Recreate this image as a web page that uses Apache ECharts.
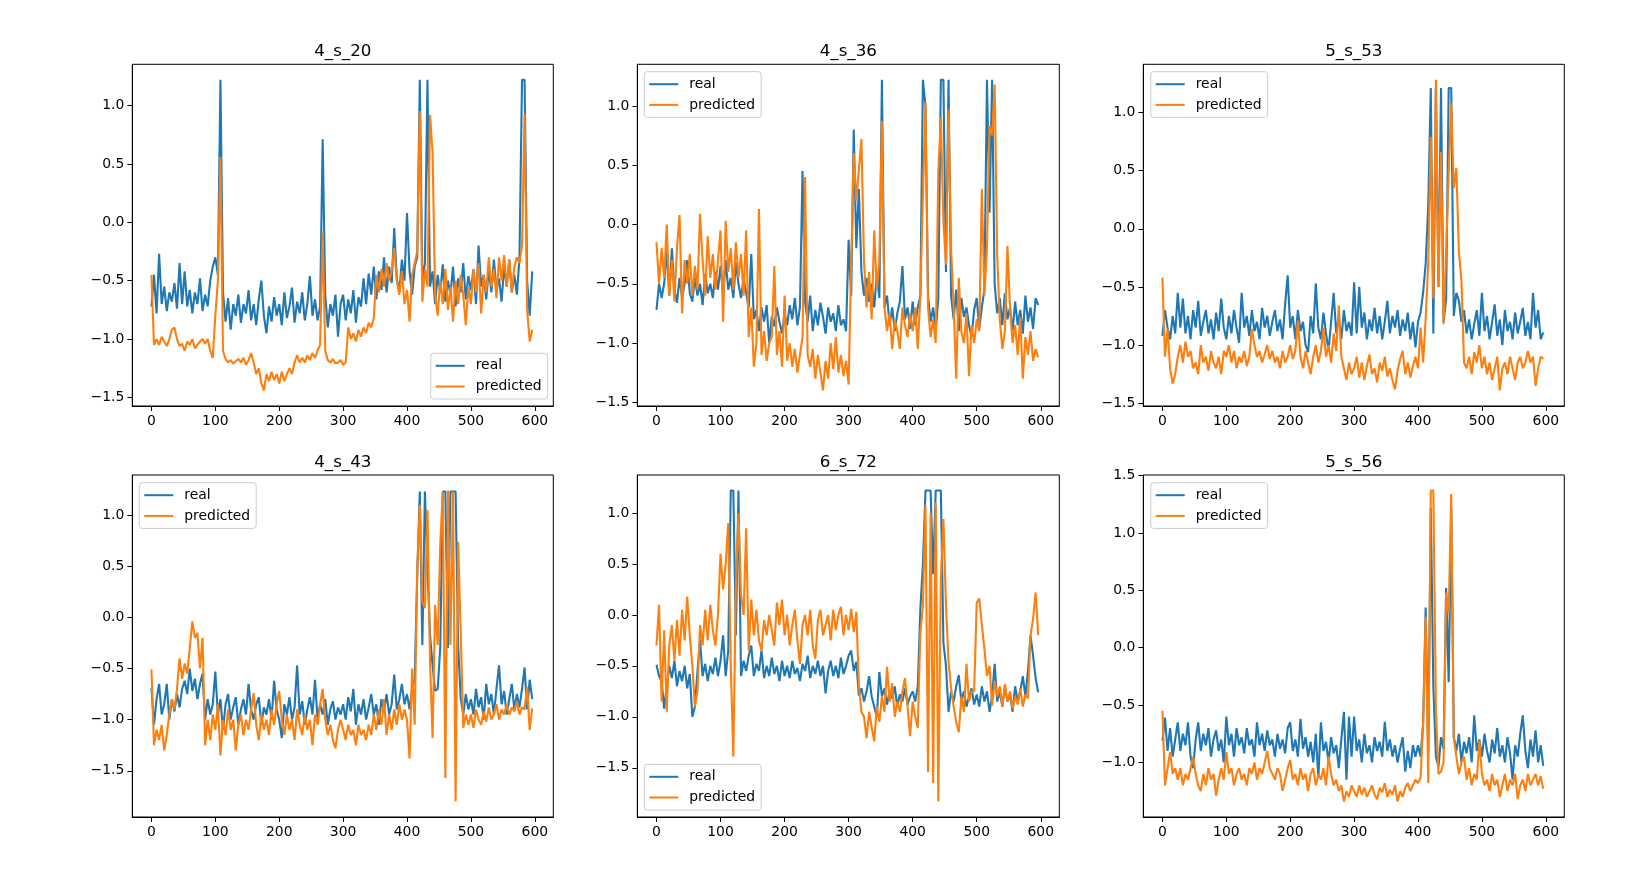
<!DOCTYPE html>
<html><head><meta charset="utf-8">
<script src="https://cdn.jsdelivr.net/npm/echarts@6/dist/echarts.min.js"></script>
<style>html,body{margin:0;padding:0;background:#fff}#c{width:1638px;height:884px}</style>
</head><body><div id="c"></div>
<script>
// ---------- data ----------
const titles = ['4_s_20', '4_s_36', '5_s_53', '4_s_43', '6_s_72', '5_s_56'];
const seriesNames = ['real', 'predicted'];
const xTickValues = [0, 100, 200, 300, 400, 500, 600];
const yTickValues = [-1.5, -1.0, -0.5, 0.0, 0.5, 1.0, 1.5];
const sampleStep = 4; // x spacing of the sampled points (0,4,8,...,596)
const xDataMax = 599;

const real_4_s_20 = [
-0.72,-0.45,-0.78,-0.27,-0.7,-0.55,-0.76,-0.6,-0.68,-0.52,-0.74,-0.35,-0.7,-0.42,-0.72,-0.58,-0.78,-0.6,-0.7,-0.48,-0.76,-0.62,-0.72,-0.5,-0.38,
-0.3,-0.45,1.22,-0.6,-0.85,-0.65,-0.92,-0.7,-0.8,-0.62,-0.86,-0.7,-0.78,-0.58,-0.84,-0.7,-0.88,-0.66,-0.5,-0.8,-0.95,-0.72,-0.85,-0.64,-0.8,
-0.7,-0.88,-0.6,-0.82,-0.72,-0.56,-0.86,-0.68,-0.78,-0.6,-0.84,-0.7,-0.46,-0.8,-0.66,-0.84,-0.72,0.71,-0.62,-0.9,-0.7,-0.8,-0.62,-0.98,-0.7,
-0.62,-0.84,-0.66,-0.78,-0.58,-0.86,-0.64,-0.72,-0.48,-0.7,-0.44,-0.62,-0.38,-0.66,-0.42,-0.58,-0.3,-0.6,-0.38,-0.52,-0.05,-0.48,-0.6,-0.32,-0.5,
0.08,-0.42,-0.62,-0.38,-0.3,1.22,-0.5,-0.35,1.22,-0.55,-0.42,-0.7,-0.45,-0.6,-0.36,-0.68,-0.5,-0.62,-0.38,-0.72,-0.48,-0.6,-0.35,-0.66,-0.46,
-0.58,-0.4,-0.7,-0.2,-0.55,-0.45,-0.66,-0.4,-0.6,-0.32,-0.58,-0.48,-0.68,-0.38,-0.55,-0.32,-0.6,-0.45,-0.62,-0.3,1.22,1.22,-0.5,-0.8,-0.42];
const pred_4_s_20 = [
-0.45,-1.05,-1.0,-1.05,-0.98,-1.02,-1.06,-1.0,-0.92,-0.9,-1.0,-1.06,-1.04,-1.1,-1.02,-1.05,-1.0,-1.08,-1.05,-1.02,-1.0,-1.04,-1.0,-1.1,-1.16,
-0.8,-0.5,0.56,-1.1,-1.17,-1.2,-1.18,-1.21,-1.19,-1.17,-1.2,-1.16,-1.22,-1.18,-1.12,-1.2,-1.3,-1.25,-1.38,-1.44,-1.3,-1.36,-1.28,-1.35,-1.3,
-1.38,-1.28,-1.36,-1.3,-1.25,-1.3,-1.2,-1.14,-1.2,-1.16,-1.2,-1.14,-1.18,-1.12,-1.16,-1.1,-1.05,-0.09,-1.1,-1.18,-1.2,-1.17,-1.21,-1.2,-1.18,
-1.22,-1.2,-0.9,-1.0,-0.95,-1.02,-0.92,-0.98,-0.9,-0.95,-0.86,-0.9,-0.82,-0.45,-0.6,-0.4,-0.55,-0.35,-0.5,-0.42,-0.22,-0.5,-0.62,-0.42,-0.7,
-0.58,-0.85,-0.45,-0.35,-0.25,0.95,-0.68,-0.4,-0.55,0.92,0.6,-0.62,-0.8,-0.5,-0.7,-0.4,-0.75,-0.55,-0.85,-0.5,-0.7,-0.45,-0.62,-0.88,-0.55,
-0.7,-0.4,-0.6,-0.35,-0.78,-0.45,-0.6,-0.3,-0.55,-0.4,-0.65,-0.3,-0.5,-0.28,-0.55,-0.32,-0.6,-0.38,-0.3,-0.35,-0.2,0.93,-0.75,-1.02,-0.92];

const real_4_s_36 = [
-0.72,-0.5,-0.62,-0.5,-0.22,-0.6,-0.2,-0.55,-0.66,-0.45,-0.62,-0.5,-0.3,-0.58,-0.65,-0.45,-0.6,-0.5,-0.68,-0.42,-0.58,-0.5,-0.62,-0.4,-0.55,
-0.35,-0.6,-0.3,-0.55,-0.45,-0.62,-0.32,-0.5,-0.62,-0.45,-0.58,-0.7,-0.25,-0.8,-0.72,-0.9,-0.7,-0.82,-0.68,-1.0,-0.78,-0.86,-0.7,-0.82,-0.92,
-0.75,-0.85,-0.68,-0.8,-0.62,-0.85,-0.7,0.45,-0.65,-0.82,-0.6,-0.9,-0.72,-0.85,-0.66,-0.78,-0.92,-0.7,-0.82,-0.75,-0.9,-0.68,-0.85,-0.8,-0.9,
-0.13,-0.6,0.8,-0.2,0.3,-0.4,-0.6,-0.45,-0.65,-0.5,-0.7,-0.42,-0.62,1.22,-0.7,-0.6,-0.85,-0.7,-0.9,-0.75,-0.65,-0.35,-0.8,-0.7,-0.88,
-0.65,-0.85,-0.7,-0.6,1.22,1.0,-0.6,-0.82,-0.7,-0.9,-0.62,1.22,1.22,-0.4,1.22,-0.6,-0.8,-0.55,-0.9,-0.62,-0.78,-0.7,-0.85,-0.95,-0.72,
-0.62,-0.88,-0.7,-0.55,1.22,0.1,1.22,-0.5,-0.75,-0.62,-0.85,-0.58,-0.8,-0.7,-0.9,-0.65,-0.85,-0.72,-0.92,-0.6,-0.82,-0.7,-0.88,-0.62,-0.68];
const pred_4_s_36 = [
-0.15,-0.5,-0.2,-0.45,0.0,-0.6,-0.3,-0.65,-0.2,0.08,-0.75,-0.3,-0.5,-0.25,-0.6,-0.35,-0.55,0.09,-0.3,-0.6,-0.1,-0.45,-0.25,-0.55,-0.3,
-0.05,-0.82,0.03,-0.4,-0.2,-0.55,-0.15,-0.45,-0.25,-0.6,-0.05,-0.95,-0.7,-1.2,-1.0,0.13,-1.1,-0.9,-1.15,-1.0,-0.95,-0.35,-1.1,-0.9,-1.2,
-0.6,-1.15,-1.0,-1.2,-1.05,-1.25,-1.1,-0.95,0.4,-1.1,-1.2,-1.05,-1.3,-1.1,-1.25,-1.4,-1.15,-1.3,-1.0,-1.22,-0.95,-1.25,-1.1,-1.28,-1.15,
-1.35,-0.33,0.6,0.2,0.46,0.72,-0.3,-0.7,-0.4,-0.8,-0.05,-0.55,-0.3,0.87,-0.7,-0.9,-0.75,-1.05,-0.8,-0.9,-1.05,-0.7,-0.85,-0.95,-0.75,
-0.9,-0.7,-1.05,-0.6,0.24,1.03,-0.7,-0.95,-0.8,-1.0,0.44,0.9,0.02,-0.34,0.97,-0.2,-0.7,-1.3,-0.45,-0.9,-1.0,-0.75,-1.28,-0.85,-1.0,
-0.8,-0.9,0.3,-0.6,-0.2,0.83,0.75,1.18,-0.26,-0.8,-1.05,-0.9,-0.18,-0.7,-1.0,-0.85,-1.1,-0.78,-1.3,-0.95,-1.1,-0.9,-1.15,-1.05,-1.12];

const real_5_s_53 = [
-0.92,-0.7,-0.85,-0.95,-0.75,-0.9,-0.55,-0.85,-0.6,-0.9,-0.75,-0.95,-0.7,-0.85,-0.62,-0.92,-0.8,-0.7,-0.9,-0.78,-0.95,-0.72,-0.88,-0.6,-0.85,
-0.95,-0.75,-0.9,-0.7,-0.85,-0.98,-0.55,-0.85,-0.75,-0.92,-0.7,-0.88,-0.8,-0.95,-0.68,-0.85,-0.75,-0.92,-0.8,-0.7,-0.88,-0.78,-0.95,-0.65,-0.4,
-0.85,-0.75,-0.95,-0.7,-0.88,-0.8,-1.0,-1.06,-0.75,-0.9,-0.47,-0.85,-0.95,-0.72,-0.9,-1.05,-0.8,-0.55,-0.9,-0.75,-0.95,-0.7,-0.88,-0.8,-0.92,
-0.46,-0.9,-0.5,-0.85,-0.72,-0.95,-0.78,-0.88,-0.68,-0.9,-0.75,-0.95,-0.8,-0.62,-0.9,-0.75,-0.85,-0.7,-0.92,-0.78,-0.88,-0.72,-0.95,-0.8,-1.02,
-0.8,-0.72,-0.55,-0.3,0.2,1.21,-0.9,1.21,-0.5,1.21,-0.8,-0.6,1.21,1.21,-0.75,-0.55,-0.62,-0.8,-0.7,-0.9,-0.78,-0.95,-0.82,-0.7,-0.92,
-0.55,-0.88,-0.75,-0.95,-0.8,-0.65,-0.92,-0.78,-1.0,-0.7,-0.88,-0.8,-0.95,-0.72,-0.9,-0.8,-0.68,-0.92,-0.8,-0.95,-0.55,-0.85,-0.7,-0.95,-0.89];
const pred_5_s_53 = [
-0.42,-1.1,-0.86,-1.2,-1.33,-1.25,-1.1,-1.0,-1.15,-0.97,-1.1,-1.05,-1.2,-1.15,-1.25,-1.0,-1.15,-1.1,-1.22,-1.05,-1.15,-1.2,-1.1,-1.25,-1.05,
-1.1,-1.0,-1.15,-1.05,-1.2,-1.1,-1.15,-1.05,-1.18,-1.1,-0.86,-1.0,-1.1,-1.05,-1.15,-1.08,-1.0,-1.12,-1.05,-1.15,-1.1,-1.2,-1.05,-1.15,-1.1,
-1.0,-1.12,-1.05,-0.79,-1.1,-1.2,-1.05,-1.15,-1.25,-1.1,-1.0,-1.15,-1.05,-0.85,-1.1,-1.0,-1.15,-0.9,-1.05,-0.66,-1.1,-1.2,-1.3,-1.15,-1.25,
-1.2,-1.1,-1.28,-1.15,-1.3,-1.18,-1.08,-1.25,-1.2,-1.32,-1.15,-1.22,-1.1,-1.27,-1.2,-1.3,-1.38,-1.22,-1.12,-1.05,-1.25,-1.15,-1.28,-1.18,-1.1,
-1.2,-0.85,-1.15,-0.77,-0.3,0.79,-0.6,1.28,-0.5,0.66,-0.82,-0.2,0.48,1.08,0.35,0.52,-0.2,-0.45,-1.15,-1.2,-1.1,-1.25,-1.06,-1.15,-1.0,
-1.2,-1.1,-1.25,-1.15,-1.3,-1.2,-1.1,-1.39,-1.2,-1.15,-1.25,-1.1,-1.2,-1.3,-1.15,-1.1,-1.2,-1.15,-1.05,-1.15,-1.1,-1.35,-1.2,-1.1,-1.12];

const real_4_s_43 = [
-0.69,-1.05,-0.8,-0.65,-0.95,-0.85,-0.65,-1.0,-0.8,-0.92,-0.75,-0.88,-0.7,-0.62,-0.75,-0.5,-0.72,-0.6,-0.8,-0.65,-0.55,-1.0,-0.8,-0.95,-0.85,
-0.53,-0.95,-0.8,-1.1,-0.85,-0.75,-1.0,-0.88,-0.78,-1.05,-0.9,-0.8,-0.95,-0.65,-0.9,-1.0,-0.85,-0.78,-1.05,-0.88,-0.95,-0.8,-1.0,-0.62,-0.9,
-1.0,-1.18,-0.85,-0.95,-0.78,-1.0,-0.88,-0.47,-0.95,-0.82,-1.05,-0.9,-0.78,-0.95,-0.61,-1.0,-0.85,-0.95,-0.8,-1.05,-0.9,-0.82,-1.0,-0.88,-0.95,
-0.85,-1.0,-0.78,-0.92,-0.7,-1.05,-0.85,-0.95,-0.8,-1.0,-0.88,-0.75,-0.95,-0.85,-1.05,-0.8,-0.92,-0.75,-0.95,-0.85,-0.56,-0.9,-0.8,-0.65,-0.85,
-0.75,-0.9,-0.7,-0.6,0.41,1.23,-0.27,1.23,0.48,-0.17,-0.47,-0.72,-0.7,-0.3,1.23,1.23,-0.3,1.23,1.23,1.23,-0.27,-0.79,-0.95,-0.75,-0.9,
-0.8,-0.95,-0.7,-0.88,-0.78,-1.0,-0.65,-0.85,-0.75,-0.95,-0.7,-0.47,-0.85,-0.72,-0.95,-0.8,-0.65,-0.9,-0.75,-0.88,-0.7,-0.49,-0.9,-0.61,-0.8];
const pred_4_s_43 = [
-0.51,-1.25,-1.1,-1.2,-1.05,-1.3,-1.15,-0.95,-0.8,-0.9,-0.7,-0.4,-0.6,-0.45,-0.55,-0.3,-0.04,-0.2,-0.15,-0.5,-0.2,-1.25,-1.0,-1.2,-0.95,
-1.1,-0.85,-1.35,-1.0,-1.15,-0.9,-1.1,-1.0,-1.3,-1.05,-0.95,-1.15,-1.0,-1.1,-0.9,-0.74,-1.05,-1.2,-0.95,-1.1,-1.0,-1.15,-0.9,-1.05,-0.85,
-0.72,-1.0,-1.15,-0.95,-1.1,-1.0,-1.2,-0.9,-1.05,-1.15,-0.95,-1.1,-1.0,-1.25,-0.95,-1.05,-0.85,-0.7,-1.0,-1.15,-1.05,-1.2,-1.28,-1.1,-1.0,
-1.1,-1.2,-1.05,-1.15,-1.1,-1.25,-1.05,-1.15,-1.1,-1.2,-1.05,-1.15,-0.95,-1.1,-0.9,-1.05,-0.8,-1.15,-0.95,-1.1,-0.9,-1.05,-0.85,-1.0,-0.9,
-1.0,-1.38,-0.5,-1.05,0.48,1.1,0.15,0.09,1.05,-0.43,-1.18,0.12,-0.27,0.71,1.23,-1.57,1.24,-0.27,1.23,-1.8,0.74,-0.14,-1.08,-0.95,-1.05,
-0.95,-1.08,-0.9,-1.0,-1.05,-0.92,-1.02,-0.88,-1.0,-0.95,-0.85,-1.0,-0.9,-0.95,-0.85,-0.95,-0.88,-0.92,-0.82,-0.95,-0.88,-0.9,-0.68,-1.1,-0.89];

const real_6_s_72 = [
-0.49,-0.6,-0.65,-0.92,-0.7,-0.5,-0.62,-0.45,-0.7,-0.55,-0.65,-0.5,-0.72,-0.58,-1.0,-0.9,-0.55,-0.25,-0.6,-0.48,-0.65,-0.5,-0.58,-0.42,-0.6,
-0.45,-0.2,-0.6,-0.35,1.22,1.22,-0.2,1.22,-0.6,-0.45,-0.55,-0.4,-0.3,-0.6,-0.48,-0.55,-0.35,-0.62,-0.5,-0.6,-0.42,-0.58,-0.5,-0.65,-0.45,
-0.6,-0.5,-0.62,-0.45,-0.58,-0.52,-0.65,-0.48,-0.55,-0.4,-0.62,-0.5,-0.58,-0.45,-0.6,-0.5,-0.77,-0.55,-0.45,-0.6,-0.5,-0.62,-0.42,-0.58,-0.5,
-0.4,-0.35,-0.55,-0.46,-0.79,-0.72,-0.85,-0.75,-0.6,-0.8,-0.9,-1.0,-0.56,-0.8,-0.72,-0.88,-0.75,-0.82,-0.7,-0.9,-0.78,-0.85,-0.72,-0.88,-0.8,
-0.75,-0.85,-0.7,0.06,0.5,1.22,1.22,1.22,0.4,1.22,1.22,1.22,-0.27,-0.5,-0.95,-0.75,-0.85,-0.7,-0.59,-0.85,-0.75,-0.9,-0.8,-0.72,-0.88,
-0.78,-0.9,-0.7,-0.85,-0.75,-0.95,-0.8,-0.48,-0.85,-0.75,-0.9,-0.7,-0.85,-0.78,-0.95,-0.7,-0.85,-0.75,-0.6,-0.8,-0.55,-0.2,-0.4,-0.62,-0.76];
const pred_6_s_72 = [
-0.3,0.1,-0.85,-0.15,-0.95,-0.3,-0.1,-0.45,-0.05,-0.4,0.05,-0.25,0.18,-0.2,-0.5,-0.9,-0.75,-0.1,-0.3,0.05,-0.25,0.1,-0.15,-0.3,0.0,
0.6,0.25,0.5,0.9,-0.5,-1.39,0.3,1.0,0.2,0.0,0.85,-0.35,0.15,-0.2,0.05,-0.25,-0.35,-0.05,-0.2,0.0,-0.15,-0.3,0.12,-0.1,0.15,
-0.2,0.0,-0.3,-0.1,0.05,-0.25,-0.48,-0.1,0.0,-0.2,0.05,-0.3,-0.43,-0.05,0.05,-0.2,-0.1,0.0,-0.25,0.05,-0.15,0.0,0.08,-0.2,0.0,
-0.15,0.06,-0.17,0.03,-0.69,-0.95,-1.0,-1.21,-0.95,-1.1,-1.24,-0.9,-1.05,-0.8,-0.95,-0.51,-0.85,-0.67,-1.0,-0.85,-0.95,-0.75,-0.62,-0.9,-1.19,
-0.85,-1.0,-1.11,-0.17,0.09,1.08,-1.54,1.0,-1.65,1.1,-1.83,0.35,0.94,0.09,-0.46,-0.72,-0.9,-1.05,-1.15,-0.8,-0.95,-0.48,-0.85,-0.75,-0.75,
0.12,0.16,-0.1,-0.33,-0.6,-0.5,-0.89,-0.65,-0.8,-0.7,-0.9,-0.68,-0.85,-0.75,-0.92,-0.8,-0.88,-0.72,-0.9,-0.78,-0.82,-0.2,-0.04,0.22,-0.2];

const real_5_s_56 = [
-0.81,-0.61,-0.9,-0.7,-0.95,-0.8,-0.65,-0.9,-0.75,-0.85,-0.65,-0.95,-1.05,-0.8,-0.65,-0.9,-0.75,-0.85,-0.7,-0.95,-0.8,-0.72,-0.9,-0.8,-1.0,
-0.6,-0.85,-0.75,-0.95,-0.7,-0.85,-0.78,-0.92,-0.7,-0.85,-0.8,-0.95,-0.65,-0.85,-0.75,-0.9,-0.72,-0.85,-0.8,-0.95,-0.75,-0.88,-0.8,-0.92,-0.7,
-0.65,-0.9,-0.8,-0.95,-0.62,-0.88,-0.78,-0.95,-0.82,-1.0,-0.75,-1.13,-0.65,-0.9,-0.82,-1.0,-0.78,-0.92,-0.85,-1.05,-0.8,-0.56,-1.15,-0.6,-0.95,
-0.6,-0.9,-0.8,-1.0,-0.75,-0.92,-0.85,-1.0,-0.78,-0.9,-0.82,-0.95,-0.645,-0.9,-0.8,-0.95,-0.85,-1.0,-0.88,-0.78,-1.08,-0.9,-1.05,-0.85,-0.95,
-0.85,-0.95,-0.66,0.35,-0.92,1.22,-0.34,-0.95,-1.04,-0.78,-0.88,0.52,-0.3,1.22,-0.78,-0.9,-0.75,-1.0,-0.82,-0.92,-0.78,-1.0,-0.59,-0.9,-0.8,
-0.95,-0.75,-0.9,-1.0,-0.8,-0.92,-0.7,-0.95,-0.85,-1.0,-0.78,-0.92,-1.15,-0.85,-0.95,-0.75,-0.59,-0.9,-1.05,-0.8,-0.95,-0.72,-1.0,-0.85,-1.03];
const pred_5_s_56 = [
-0.55,-1.2,-1.05,-0.91,-1.1,-1.05,-1.15,-1.05,-1.2,-1.1,-1.15,-1.05,-0.95,-1.1,-1.2,-1.25,-1.1,-1.2,-1.05,-1.15,-1.1,-1.29,-1.15,-1.05,-1.15,
-0.91,-1.1,-1.05,-1.2,-1.1,-1.05,-1.15,-1.1,-1.2,-1.05,-1.1,-1.0,-1.15,-1.05,-1.1,-1.0,-0.9,-1.05,-1.1,-1.15,-1.05,-1.1,-1.25,-1.15,-1.05,
-0.98,-1.15,-1.1,-1.2,-1.05,-1.15,-1.1,-1.25,-1.1,-1.05,-1.2,-1.1,-1.15,-1.05,-1.2,-0.95,-1.1,-1.2,-1.15,-1.25,-1.2,-1.34,-1.25,-1.3,-1.2,
-1.25,-1.3,-1.2,-1.28,-1.22,-1.3,-1.25,-1.2,-1.28,-1.32,-1.22,-1.26,-1.18,-1.3,-1.24,-1.28,-1.2,-1.34,-1.25,-1.3,-1.22,-1.18,-1.25,-1.2,-1.15,
-1.18,-1.13,-0.66,0.27,-1.18,1.37,1.37,-0.54,-1.1,-1.08,-1.0,0.48,0.3,1.34,-0.78,-0.95,-1.1,-1.0,-0.95,-1.15,-1.05,-1.2,-1.1,-1.15,-0.81,
-1.1,-1.2,-1.15,-1.25,-1.1,-1.2,-1.15,-1.3,-1.2,-1.1,-1.25,-1.15,-1.2,-1.1,-1.32,-1.2,-1.15,-1.25,-1.1,-1.2,-1.15,-1.1,-1.2,-1.12,-1.23];

const realSeries = [real_4_s_20, real_4_s_36, real_5_s_53, real_4_s_43, real_6_s_72, real_5_s_56];
const predSeries = [pred_4_s_20, pred_4_s_36, pred_5_s_53, pred_4_s_43, pred_6_s_72, pred_5_s_56];

// ---------- layout & style ----------
const FONT = 'DejaVu Sans';
const colLeft = [132.3, 637.3, 1143.3];
const colWidth = [421, 422, 421];
const rowTop = [64.3, 475];
const rowHeight = [341.7, 342];
const legendPos = [
  {left: 430.7, top: 353.3}, {left: 644.3, top: 71.7}, {left: 1150.7, top: 71.7},
  {left: 139.3, top: 482.7}, {left: 644.3, top: 764.3}, {left: 1150.7, top: 482.7}
];
const COLORS = ['#1f77b4', '#ff7f0e'];

function fmtY(v) {
  const s = (Math.round(v * 10) / 10).toFixed(1);
  return s.replace('-', '\u2212');
}

const grid = [], xAxis = [], yAxis = [], series = [], title = [], legend = [];
for (let p = 0; p < 6; p++) {
  const r = Math.floor(p / 3), c = p % 3;
  grid.push({left: colLeft[c], top: rowTop[r], width: colWidth[c], height: rowHeight[r],
    show: true, borderColor: '#000', borderWidth: 1, backgroundColor: 'transparent', containLabel: false});
  const all = realSeries[p].concat(predSeries[p]);
  const dmin = Math.min.apply(null, all), dmax = Math.max.apply(null, all);
  const ymin = dmin - 0.05 * (dmax - dmin), ymax = dmax + 0.05 * (dmax - dmin);
  const yt = yTickValues.filter(v => v >= ymin - 1e-9 && v <= ymax + 1e-9);
  const labelStyle = {fontFamily: FONT, fontSize: 13.9, color: '#000'};
  xAxis.push({
    type: 'value', gridIndex: p, position: 'bottom', min: -0.05 * xDataMax, max: xDataMax * 1.05,
    splitLine: {show: false}, axisLine: {show: true, onZero: false, lineStyle: {color: '#000', width: 1}},
    axisTick: {show: true, inside: false, length: 4.9, lineStyle: {color: '#000', width: 1}, customValues: xTickValues},
    axisLabel: Object.assign({show: true, margin: 8, customValues: xTickValues, formatter: v => String(Math.round(v))}, labelStyle)
  });
  yAxis.push({
    type: 'value', gridIndex: p, position: 'left', min: ymin, max: ymax,
    splitLine: {show: false}, axisLine: {show: true, onZero: false, lineStyle: {color: '#000', width: 1}},
    axisTick: {show: true, inside: false, length: 4.9, lineStyle: {color: '#000', width: 1}, customValues: yt},
    axisLabel: Object.assign({show: true, margin: 8, customValues: yt, formatter: fmtY}, labelStyle)
  });
  [realSeries[p], predSeries[p]].forEach((arr, k) => {
    series.push({
      name: seriesNames[k], type: 'line', xAxisIndex: p, yAxisIndex: p,
      data: arr.map((v, i) => [i * sampleStep, v]),
      showSymbol: false, symbol: 'none', color: COLORS[k],
      lineStyle: {width: 2.1, color: COLORS[k]}, z: 2 + k, animation: false
    });
  });
  title.push({
    text: titles[p], left: colLeft[c] + colWidth[c] / 2, top: rowTop[r] - 21, textAlign: 'center', padding: 0,
    textStyle: {fontFamily: FONT, fontSize: 16.7, fontWeight: 'normal', color: '#000'}
  });
  legend.push({
    data: seriesNames, orient: 'vertical', left: legendPos[p].left, top: legendPos[p].top,
    icon: 'rect', itemWidth: 29, itemHeight: 2, itemTextGap: 11, itemGap: 6.7,
    padding: [5.5, 6, 5.5, 5], backgroundColor: 'rgba(255,255,255,0.8)', borderColor: '#cccccc',
    borderWidth: 1, borderRadius: 3, selectedMode: false,
    textStyle: {fontFamily: FONT, fontSize: 13.9, color: '#000', lineHeight: 14, padding: [0, 0, 0, 6]}
  });
}

const chart = echarts.init(document.getElementById('c'), null, {renderer: 'canvas'});
chart.setOption({animation: false, backgroundColor: '#fff', grid, xAxis, yAxis, series, title, legend});
</script>
</body></html>
